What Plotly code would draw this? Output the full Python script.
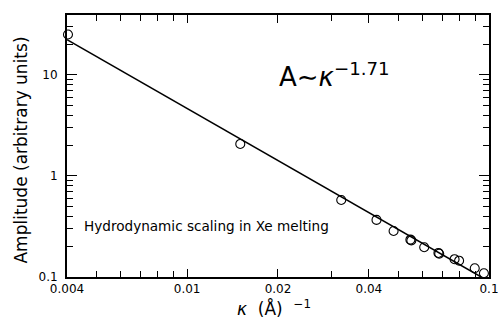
import plotly.graph_objects as go

# data
kappa = [0.00403, 0.0150, 0.0324, 0.0424, 0.0483, 0.0549, 0.0553, 0.0610,
         0.0680, 0.0684, 0.0769, 0.0796, 0.0897, 0.0962]
amplitude = [25.0, 2.07, 0.578, 0.367, 0.285, 0.234, 0.230, 0.197,
             0.173, 0.170, 0.150, 0.145, 0.122, 0.109]

fit_kappa = [0.004, 0.0942]
fit_amplitude = [22.2, 0.1]

x_major_vals = [0.004, 0.01, 0.02, 0.04, 0.1]
x_major_text = ["0.004", "0.01", "0.02", "0.04", "0.1"]
x_minor_vals = [0.005, 0.006, 0.007, 0.008, 0.009, 0.03, 0.05, 0.06, 0.07, 0.08, 0.09]

y_major_vals = [0.1, 1, 10]
y_major_text = ["0.1", "1", "10"]
y_minor_vals = [0.2, 0.3, 0.4, 0.5, 0.6, 0.7, 0.8, 0.9,
                2, 3, 4, 5, 6, 7, 8, 9, 20, 30]

FONT = "DejaVu Sans"

fig = go.Figure()
fig.add_trace(go.Scatter(x=fit_kappa, y=fit_amplitude, mode="lines",
                         line=dict(color="black", width=1.5), showlegend=False))
fig.add_trace(go.Scatter(x=kappa, y=amplitude, mode="markers",
                         marker=dict(symbol="circle-open", size=9, color="black",
                                     line=dict(width=1.1, color="black")),
                         showlegend=False, cliponaxis=False))

fig.update_layout(
    width=498, height=323,
    margin=dict(l=67, r=9, t=15, b=46, autoexpand=False),
    paper_bgcolor="white", plot_bgcolor="white",
    font=dict(family=FONT, color="black", size=12),
    xaxis=dict(type="log", range=[-2.3979, -1.0], automargin=False,
               tickvals=x_major_vals, ticktext=x_major_text,
               ticks="inside", ticklen=8, tickwidth=1, tickcolor="black",
               ticklabeloverflow="allow",
               showgrid=False, zeroline=False,
               showline=True, linecolor="black", linewidth=2, mirror="ticks",
               tickfont=dict(size=12, family=FONT),
               minor=dict(tickvals=x_minor_vals, ticks="inside", ticklen=6,
                          tickwidth=1, tickcolor="black", showgrid=False)),
    yaxis=dict(type="log", range=[-1.0, 1.591], automargin=False,
               tickvals=y_major_vals, ticktext=y_major_text,
               ticks="inside", ticklen=10, tickwidth=1, tickcolor="black",
               ticklabeloverflow="allow", ticklabelstandoff=5,
               showgrid=False, zeroline=False,
               showline=True, linecolor="black", linewidth=2, mirror="ticks",
               tickfont=dict(size=12, family=FONT),
               minor=dict(tickvals=y_minor_vals, ticks="inside", ticklen=6,
                          tickwidth=1, tickcolor="black", showgrid=False)),
)

fig.add_annotation(text="Amplitude (arbitrary units)", xref="paper", yref="paper",
                   x=-0.11, y=0.485, xanchor="center", yanchor="middle",
                   textangle=-90, showarrow=False, font=dict(size=17, family=FONT))
fig.add_annotation(text="<i>κ</i>  (Å)  <sup>−1</sup>", xref="paper", yref="paper",
                   x=0.49, y=-0.118, xanchor="center", yanchor="middle",
                   showarrow=False, font=dict(size=17, family=FONT))
fig.add_annotation(text="A∼<i>κ</i><sup>−1.71</sup>", xref="paper", yref="paper",
                   x=0.497, y=0.77, xanchor="left", yanchor="middle",
                   showarrow=False, font=dict(size=26, family=FONT))
fig.add_annotation(text="Hydrodynamic scaling in Xe melting", xref="paper", yref="paper",
                   x=0.036, y=0.195, xanchor="left", yanchor="middle",
                   showarrow=False, font=dict(size=13.6, family=FONT))

fig.write_html("out.html", config={"displayModeBar": False},
               post_script="document.body.style.margin='0';document.body.style.overflow='hidden';")
